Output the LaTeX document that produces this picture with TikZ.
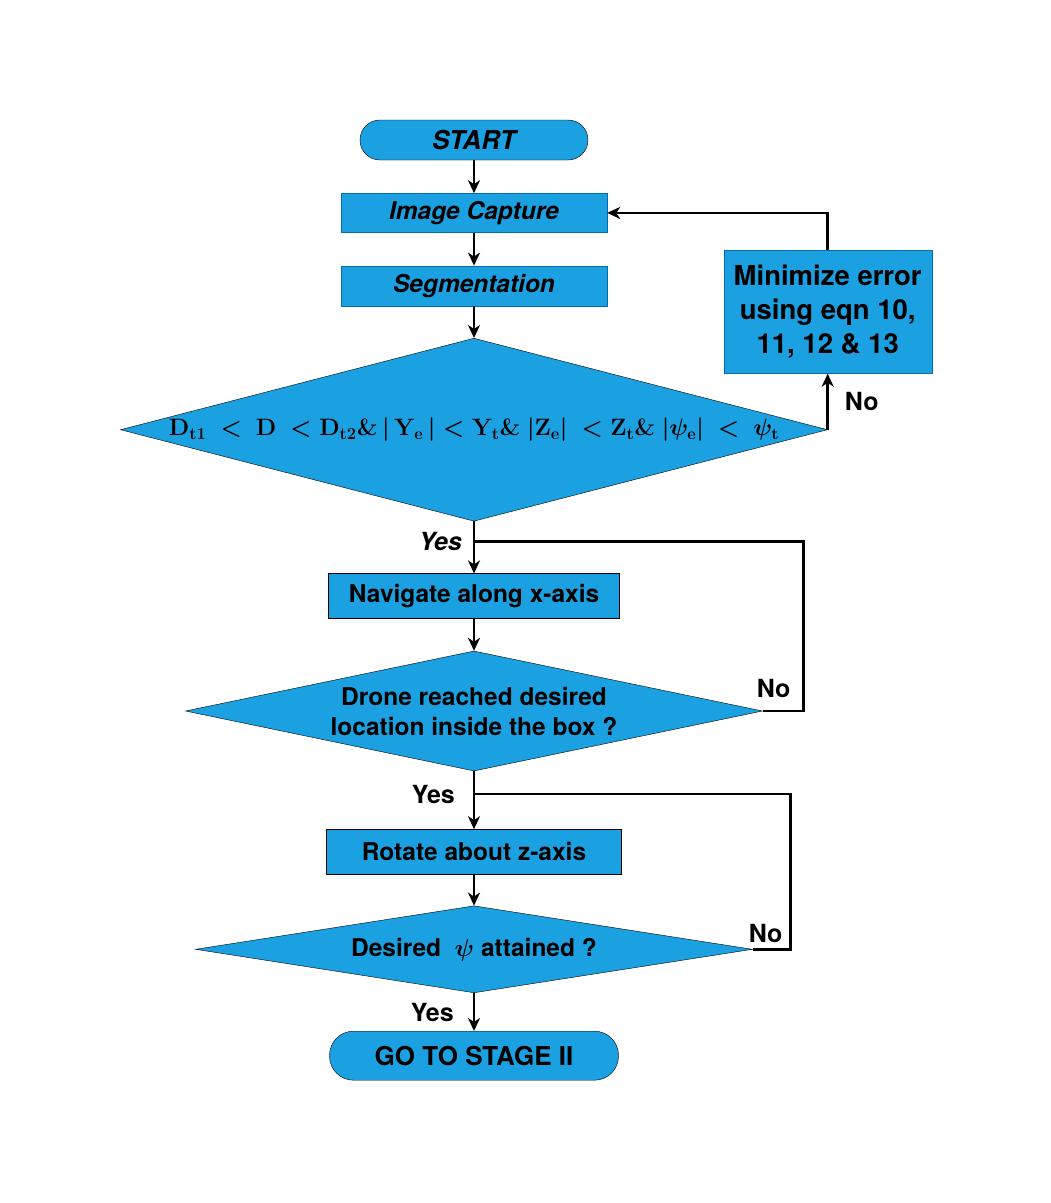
\RequirePackage{fix-cm}
\documentclass[tikz,border=0pt]{standalone}
\usepackage[no-math]{fontspec}
\setmainfont{TeX Gyre Heros}
\usepackage{amsmath}
\usepackage{tikz}
\usetikzlibrary{arrows.meta, positioning, shapes.geometric}
\definecolor{flowblue}{RGB}{27,161,226}
\definecolor{edgeblue}{RGB}{0,110,175}

\begin{document}
\begin{tikzpicture}[
    x=1pt, y=-1pt,
    term/.style={
        rectangle, draw=black, thin, fill=flowblue,
        minimum width=228pt, minimum height=40pt, inner sep=0pt,
        rounded corners=20pt,
        font=\fontsize{26}{30}\selectfont\bfseries
    },
    proc/.style={
        rectangle, draw=edgeblue, thin, fill=flowblue,
        minimum width=266pt, minimum height=40pt, inner sep=0pt,
        font=\fontsize{24.5}{29}\selectfont\bfseries
    },
    decide/.style={
        diamond, draw=black, thin, fill=flowblue, inner sep=0pt,
        align=center, font=\fontsize{24.5}{30}\selectfont\bfseries
    },
    lbl/.style={font=\fontsize{25}{30}\selectfont\bfseries, inner sep=0pt},
    arr/.style={-{Stealth[length=13pt, width=12pt, inset=4pt]}, line width=2.5pt},
    back/.style={line width=2.5pt}
]
\useasboundingbox (0,0) rectangle (1051,1203);

% Start
\node[term] (start) at (474,140) {\itshape START};

% Capture and segmentation
\node[proc, below=33pt of start, minimum height=39pt] (capture) {\itshape Image Capture};
\node[proc, below=33pt of capture] (segment) {\itshape Segmentation};

% Threshold check
\node[decide, below=32pt of segment, aspect=3.86, minimum width=707pt, minimum height=183pt,
      label={[font=\fontsize{23.7}{28}\selectfont\boldmath]center:$\mathbf{D_{t1}}\ <\ \mathbf{D}\ <\mathbf{D_{t2}}\&\,|\,\mathbf{Y_e}\,|<\mathbf{Y_t}\&\ |\mathbf{Z_e}|\ <\mathbf{Z_t}\&\ |\psi_{\mathbf{e}}|\ <\ \psi_{\mathbf{t}}$}] (check) {};

% Error minimization
\node[proc, above=56pt of check.east, minimum width=208pt, minimum height=123pt,
      align=center, font=\fontsize{27.5}{34}\selectfont\bfseries] (minerr) {Minimize error\\using eqn 10,\\11, 12 \& 13};

% Navigation
\node[proc, draw=black, below=52pt of check, minimum width=291pt, minimum height=45pt] (navigate) {Navigate along x-axis};
\node[decide, below=32pt of navigate, aspect=4.8, minimum width=577pt, minimum height=120pt] (reached) {Drone reached desired\\location inside the box ?};

% Rotation
\node[proc, draw=black, below=58pt of reached, minimum width=295pt, minimum height=45pt] (rotate) {Rotate about z-axis};
\node[decide, below=31pt of rotate, aspect=6.4, minimum width=557pt, minimum height=87pt] (psicheck) {Desired \ $\boldsymbol{\psi}$ attained ?};

% End
\node[term, below=38pt of psicheck, minimum width=289pt, minimum height=49pt, rounded corners=24pt] (stage) {GO TO STAGE II};

% Join points
\coordinate[below=20pt of check.south] (join1);
\coordinate[below=23pt of reached.south] (join2);

% Arrows
\draw[arr] (start) -- (capture);
\draw[arr] (capture) -- (segment);
\draw[arr] (segment) -- (check);
\draw[arr] (check.east) -- node[lbl, right=16pt] {No} (minerr.south);
\draw[arr] (minerr.north) |- (capture.east);
\draw[arr] (check.south) -- (navigate.north);
\node[lbl, left=12pt of join1] {\itshape Yes};
\draw[arr] (navigate) -- (reached);
\draw[back] (reached.east) -- ++(41,0) |- (join1);
\node[lbl, anchor=south west] at ([xshift=-6pt, yshift=13pt]reached.east) {No};
\draw[arr] (reached.south) -- (rotate.north);
\node[lbl, left=19pt of join2] {Yes};
\draw[arr] (rotate) -- (psicheck);
\draw[back] (psicheck.east) -- ++(38,0) |- (join2);
\node[lbl, anchor=south west] at ([xshift=-4pt, yshift=6pt]psicheck.east) {No};
\draw[arr] (psicheck.south) -- node[lbl, left=19pt] {Yes} (stage.north);

\end{tikzpicture}
\end{document}
